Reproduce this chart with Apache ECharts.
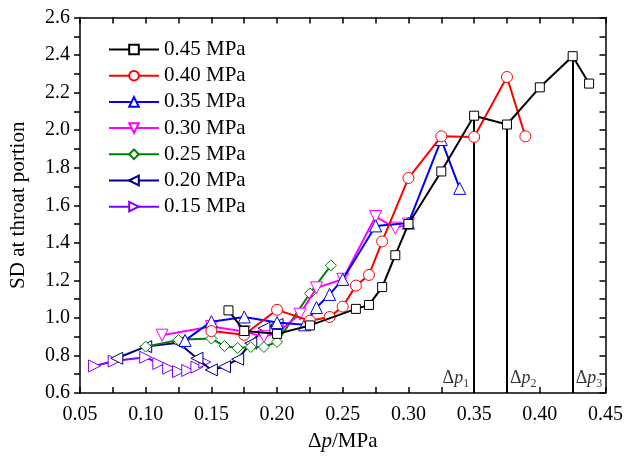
<!DOCTYPE html>
<html><head><meta charset="utf-8">
<script src="https://cdn.jsdelivr.net/npm/echarts@6/dist/echarts.min.js"></script>
<style>html,body{margin:0;padding:0;background:#fff}#c{width:626px;height:466px}</style>
</head><body><div id="c"></div>
<script>
const seriesNames = ['0.45 MPa','0.40 MPa','0.35 MPa','0.30 MPa','0.25 MPa','0.20 MPa','0.15 MPa'];
const s045 = [[0.163,1.04],[0.175,0.93],[0.20,0.915],[0.225,0.96],[0.26,1.048],[0.27,1.069],[0.28,1.164],[0.29,1.334],[0.30,1.50],[0.325,1.78],[0.35,2.077],[0.375,2.03],[0.40,2.228],[0.425,2.394],[0.4375,2.248]];
const s040 = [[0.15,0.93],[0.175,0.91],[0.20,1.043],[0.225,0.985],[0.24,1.005],[0.25,1.06],[0.26,1.172],[0.27,1.229],[0.28,1.407],[0.30,1.745],[0.325,1.967],[0.35,1.964],[0.375,2.283],[0.389,1.967]];
const s035 = [[0.13,0.88],[0.15,0.98],[0.175,1.005],[0.20,0.975],[0.221,0.963],[0.23,1.055],[0.24,1.125],[0.25,1.205],[0.275,1.49],[0.30,1.505],[0.325,1.95],[0.339,1.69]];
const s030 = [[0.1125,0.908],[0.15,0.954],[0.175,0.927],[0.19,0.90],[0.20,0.92],[0.2175,1.02],[0.23,1.16],[0.25,1.206],[0.275,1.54],[0.29,1.478],[0.30,1.50]];
const s025 = [[0.10,0.847],[0.125,0.883],[0.15,0.89],[0.16,0.85],[0.17,0.84],[0.18,0.845],[0.19,0.845],[0.20,0.872],[0.225,1.13],[0.241,1.28]];
const s020 = [[0.078,0.785],[0.10,0.847],[0.125,0.868],[0.139,0.785],[0.15,0.723],[0.16,0.74],[0.17,0.78],[0.18,0.865],[0.19,0.945],[0.20,0.965]];
const s015 = [[0.061,0.744],[0.076,0.77],[0.10,0.79],[0.11,0.757],[0.1175,0.732],[0.125,0.714],[0.132,0.72],[0.139,0.738],[0.145,0.765]];
const allData = [s045,s040,s035,s030,s025,s020,s015];
const colors = ['#000000','#ff0000','#0000ff','#ff00ff','#008000','#000080','#8000ff'];
const symbols = ['rect','circle','triangle','triangle','diamond','triangle','triangle'];
const rotations = [0,0,0,180,0,90,-90];
const sizes = [9,11,12,12,11,12,12];
const dpX = [0.35,0.375,0.425];
const dpTop = [2.077,2.03,2.394];
const dpSub = ['1','2','3'];
const dpSide = ['left','right','right'];
const xMin = 0.05, xMax = 0.45, xStep = 0.05;
const yMin = 0.6, yMax = 2.6, yStep = 0.2;

const FONT = '"Liberation Serif","Times New Roman",serif';
const chart = echarts.init(document.getElementById('c'), null, {renderer:'canvas'});

const series = allData.map((d,i)=>({
  name: seriesNames[i], type:'line', data:d,
  symbol: symbols[i], symbolSize: sizes[i], symbolRotate: rotations[i], showSymbol:true,
  lineStyle:{color:colors[i], width:2},
  itemStyle:{color:'#fff', borderColor:colors[i], borderWidth:1},
  emphasis:{disabled:true}, animation:false, z: 10 - i
}));

series.push({
  type:'line', data:[], silent:true, animation:false,
  markLine:{
    silent:true, symbol:['none','none'], animation:false,
    lineStyle:{color:'#000', width:2, type:'solid'}, label:{show:false},
    data: dpX.map((x,i)=>[{coord:[x,yMin]},{coord:[x,dpTop[i]]}])
  }
});

series.push({
  type:'scatter', symbolSize:0, silent:true, animation:false,
  data: dpX.map((x,i)=>({
    value:[x,yMin],
    label:{show:true, position: dpSide[i], distance: dpSide[i]==='left'?5:3, offset:[0,-15],
      formatter:'{a|Δ}{b|p}{c|'+dpSub[i]+'}'}
  })),
  label:{rich:{
    a:{fontFamily:FONT, fontSize:18, color:'#000'},
    b:{fontFamily:FONT, fontSize:18, fontStyle:'italic', color:'#000'},
    c:{fontFamily:FONT, fontSize:12, color:'#000', padding:[12,0,0,0]}
  }}
});

const axisCommonX = {
  type:'value', min:xMin, max:xMax, interval:xStep,
  axisLine:{show:true, onZero:false, lineStyle:{color:'#000', width:1.5}},
  axisTick:{show:true, inside:true, length:6, lineStyle:{color:'#000', width:1.5}},
  minorTick:{show:true, splitNumber:2, length:6, lineStyle:{color:'#000', width:1.5}},
  splitLine:{show:false}, minorSplitLine:{show:false}
};
const axisCommonY = {
  type:'value', min:yMin, max:yMax, interval:yStep,
  axisLine:{show:true, onZero:false, lineStyle:{color:'#000', width:1.5}},
  axisTick:{show:true, inside:true, length:6, lineStyle:{color:'#000', width:1.5}},
  minorTick:{show:true, splitNumber:2, length:6, lineStyle:{color:'#000', width:1.5}},
  splitLine:{show:false}, minorSplitLine:{show:false}
};

chart.setOption({
  backgroundColor:'#fff',
  animation:false,
  grid:{left:73, right:19, top:17.5, bottom:73, containLabel:false},
  legend:{
    data: seriesNames, orient:'vertical', left:103, top:34,
    itemWidth:50, itemHeight:12, itemGap:5.2,
    textStyle:{fontFamily:FONT, fontSize:21, color:'#000'},
    selectedMode:false
  },
  xAxis:[
    Object.assign({}, axisCommonX, {
      position:'bottom',
      axisLabel:{formatter:v=>v.toFixed(2), fontFamily:FONT, fontSize:20, color:'#000', margin:12},
      name:'{a|Δ}{b|p}{a|/MPa}', nameLocation:'middle', nameGap:38,
      nameTextStyle:{rich:{
        a:{fontFamily:FONT, fontSize:21, color:'#000'},
        b:{fontFamily:FONT, fontSize:21, fontStyle:'italic', color:'#000'}
      }}
    }),
    Object.assign({}, axisCommonX, {position:'top', axisLabel:{show:false}})
  ],
  yAxis:[
    Object.assign({}, axisCommonY, {
      position:'left',
      axisTick:{show:true, inside:false, length:6, lineStyle:{color:'#000', width:1.5}},
      minorTick:{show:true, splitNumber:2, length:6, lineStyle:{color:'#000', width:1.5}},
      axisLabel:{formatter:v=>v.toFixed(1), fontFamily:FONT, fontSize:20, color:'#000', margin:10},
      name:'SD at throat portion', nameLocation:'middle', nameGap:51,
      nameTextStyle:{fontFamily:FONT, fontSize:21, color:'#000'}
    }),
    Object.assign({}, axisCommonY, {position:'right', axisLabel:{show:false}})
  ],
  series: series
});
</script></body></html>
